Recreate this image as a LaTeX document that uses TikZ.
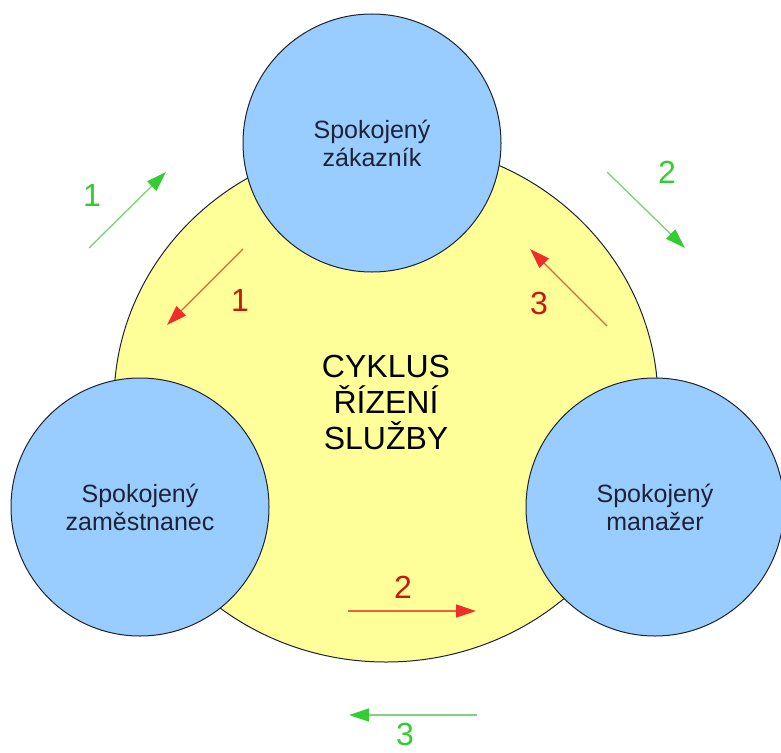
\documentclass[tikz,border=0pt]{standalone}
\usepackage{fontspec}
\setmainfont{Liberation Sans}
\usetikzlibrary{positioning, shapes.geometric, arrows.meta}
\definecolor{kruh}{RGB}{153,204,255}
\definecolor{cyklusbg}{RGB}{255,255,153}
\definecolor{obrys}{RGB}{30,35,50}
\definecolor{zelena}{RGB}{51,204,51}
\definecolor{zelenacara}{RGB}{130,210,130}
\definecolor{cervena}{RGB}{240,45,40}
\definecolor{cervenacara}{RGB}{225,100,60}
\definecolor{cervenytext}{RGB}{200,25,10}

\begin{document}
\begin{tikzpicture}[x=1pt,y=-1pt,
    spokojeny/.style={circle,draw=obrys,fill=kruh,line width=1pt,minimum size=258pt,inner sep=0pt,align=center,text=obrys,font=\fontsize{25}{28}\selectfont},
    zelsipka/.style={draw=zelenacara,line width=1.4pt,-{Triangle[length=20pt,width=13pt,color=zelena]}},
    cersipka/.style={draw=cervenacara,line width=1.4pt,-{Triangle[length=20pt,width=13pt,color=cervena]}},
    zelcislo/.style={text=zelena,font=\fontsize{32}{36}\selectfont},
    cercislo/.style={text=cervenytext,font=\fontsize{32}{36}\selectfont}]
    \useasboundingbox (0,0) rectangle (781,752);
    \node[ellipse,draw=obrys,fill=cyklusbg,line width=1pt,minimum width=544pt,minimum height=520pt,inner sep=0pt,align=center,font=\fontsize{32}{36}\selectfont] (cyklus) at (386,402) {CYKLUS\\ŘÍZENÍ\\SLUŽBY};

    \node[spokojeny] (zakaznik) at (372,143) {Spokojený\\zákazník};
    \node[spokojeny] (zamestnanec) at (140,507) {Spokojený\\zaměstnanec};
    \node[spokojeny] (manazer) at (655,507) {Spokojený\\manažer};

    \coordinate (z1a) at (89,248);  \coordinate (z1b) at (166,172);
    \coordinate (c1a) at (243,249); \coordinate (c1b) at (167,325);
    \coordinate (z2a) at (607,172); \coordinate (z2b) at (685,248);
    \coordinate (c3a) at (607,326); \coordinate (c3b) at (530,249);
    \coordinate (c2a) at (348,611); \coordinate (c2b) at (476,611);
    \coordinate (z3a) at (477,715); \coordinate (z3b) at (349,715);

    \draw[zelsipka] (z1a) -- (z1b);
    \draw[cersipka] (c1a) -- (c1b);
    \draw[zelsipka] (z2a) -- (z2b);
    \draw[cersipka] (c3a) -- (c3b);
    \draw[cersipka] (c2a) -- (c2b);
    \draw[zelsipka] (z3a) -- (z3b);

    \node[zelcislo] (z1) at (92,195) {1};
    \node[cercislo] (c1) at (240,300) {1};
    \node[zelcislo] (z2) at (667,172) {2};
    \node[cercislo] (c3) at (539,303) {3};
    \node[cercislo] (c2) at (403,587) {2};
    \node[zelcislo] (z3) at (405,734) {3};
\end{tikzpicture}
\end{document}
